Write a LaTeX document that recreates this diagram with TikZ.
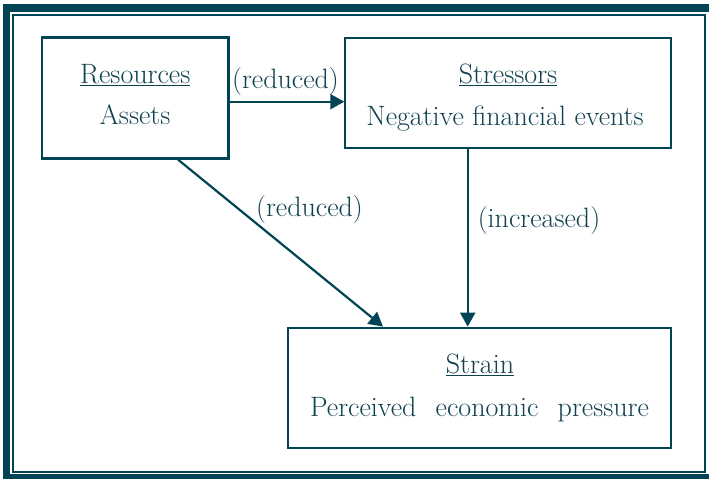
\documentclass[tikz,border=0pt]{standalone}
\usetikzlibrary{arrows.meta,calc}
\definecolor{framec}{HTML}{004455}
\definecolor{ink}{HTML}{0F4150}
\tikzset{
  box/.style={draw=framec,line width=2.2pt,inner sep=0pt,rectangle},
  txt/.style={text=ink,font=\fontsize{28}{33}\selectfont,anchor=base,inner sep=0pt},
  conn/.style={draw=framec,line width=2.2pt,-{Triangle[length=14pt,width=15pt]}},
}
\begin{document}
\begin{tikzpicture}[x=1pt,y=-1pt]
\useasboundingbox (0,0) rectangle (709,479);
% frame
\fill[framec] (3,4) rectangle (709,479);
\fill[white] (10,12) rectangle (709,474);
\draw[framec,line width=2pt] (13.3,15) rectangle (705.3,472);
% boxes
\node[box,minimum width=186.5pt,minimum height=121pt] (res) at (135.2,98) {};
\node[box,minimum width=325.7pt,minimum height=110.6pt] (str) at (508.2,93) {};
\node[box,minimum width=382.7pt,minimum height=120pt] (strain) at (479.7,387.7) {};
% texts
\node[txt] (t1) at (135.2,83) {\underline{Resources}};
\node[txt] (t2) at (135,124) {Assets};
\node[txt] (t3) at (508,83) {\underline{Stressors}};
\node[txt] (t4) at (505,125) {Negative financial events};
\node[txt] (t5) at (480,373) {\underline{Strain}};
\node[txt] (t6) at (479.5,416) {\makebox[339pt][s]{Perceived economic pressure}};
% connectors
\coordinate (hy) at (0,101.7);
\coordinate (d1) at (178,0);
\coordinate (d2) at (383,0);
\coordinate (vx) at (467.7,0);
\draw[conn] (res.east |- hy) -- (str.west |- hy);
\draw[conn] (res.south -| d1) -- (strain.north -| d2);
\draw[conn] (str.south -| vx) -- (strain.north -| vx);
% labels
\node[txt] (l1) at (285.5,88) {(reduced)};
\node[txt] (l2) at (309.5,216) {(reduced)};
\node[txt] (l3) at (539,227) {(increased)};
\end{tikzpicture}
\end{document}
